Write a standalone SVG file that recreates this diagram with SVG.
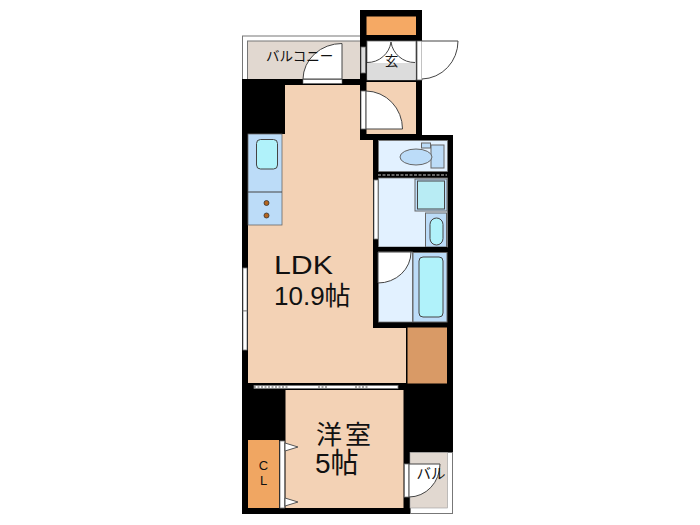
<svg xmlns="http://www.w3.org/2000/svg" width="700" height="525" viewBox="0 0 700 525">
<style>
.blk{fill:#000}
.ln{fill:none;stroke:#444;stroke-width:1}
.wet{fill:#e2f1ff;stroke:#777;stroke-width:.8}
.blue{fill:#bcdcf8;stroke:#666;stroke-width:1}
.fix{fill:#b0f2fa;stroke:#444;stroke-width:1}
.t{font-family:"Liberation Sans","Noto Sans CJK JP",sans-serif;fill:#111}
.win{fill:#fff;stroke:#777;stroke-width:.8}
</style>
<rect width="700" height="525" fill="#fff"/>
<g id="balcony">
<rect x="242.500" y="36" width="118" height="44" fill="#fff" stroke="#777"/>
<rect x="247.500" y="41" width="113" height="39" fill="#e1d8d0" stroke="#777"/>
<path d="M303 79A39 36 0 0 1 342 43.500V79Z" fill="#fff" stroke="#444"/>
<text class="t" x="266" y="61" font-size="13.500">バルコニー</text>
</g>
<g id="walls">
<path class="blk" d="M360 10H422V135H453V452H410V514H242V79H360Z"/>
<rect x="303" y="79.500" width="39" height="4" fill="#fff" stroke="#666" stroke-width=".6"/>
</g>
<g id="storage">
<rect x="366.500" y="16.500" width="49.500" height="18.500" fill="#f5a964"/>
</g>
<g id="entrance">
<rect x="367" y="41" width="49" height="39" fill="#fff" stroke="#666" stroke-width=".8"/>
<rect x="367.500" y="63" width="48" height="17" fill="#dcdcdc"/>
<rect x="366.500" y="82" width="49.500" height="52" fill="#f3d2b5"/>
<rect x="361" y="47" width="4.500" height="26" fill="#ddd" stroke="#666" stroke-width=".8"/>
<rect x="361" y="91" width="5" height="38" fill="#fff" stroke="#666" stroke-width=".8"/>
<path d="M366 91A37 38 0 0 1 402.500 129H366Z" fill="#fff" stroke="#444"/>
<path d="M367 62.500A24 24 0 0 0 391 42A24 24 0 0 0 415 62.500" fill="none" stroke="#444"/>
<rect x="417" y="41" width="5" height="39" fill="#fff" stroke="#666" stroke-width=".8"/>
<path d="M422 41H458A37 38 0 0 1 422 79" fill="#fff" stroke="#444"/>
<text class="t" x="391.500" y="65.500" font-size="13.500" text-anchor="middle">玄</text>
</g>
<g id="ldk">
<path d="M285 85H360V140H373V328H406V383H248V225H282V134H285Z" fill="#f3d2b5"/>
<rect x="407.500" y="327.500" width="39.500" height="56" fill="#d99a66"/>
<rect x="248" y="134" width="34" height="91" fill="#bcdcf8" stroke="#666" stroke-width=".8"/>
<path class="ln" d="M248 192H282"/>
<rect x="256.500" y="139.500" width="21" height="29.500" rx="4" class="fix"/>
<circle cx="266.500" cy="203" r="2.500" fill="#b5651d" stroke="#333" stroke-width=".8"/>
<circle cx="266.500" cy="215.500" r="2.500" fill="#b5651d" stroke="#333" stroke-width=".8"/>
<rect x="243" y="268" width="4" height="43" class="win"/>
<rect x="243" y="311" width="4" height="39" class="win"/>
<rect x="254" y="385.500" width="144" height="3" class="win"/>
<path d="M254 387H288M318 387H328M355 387H369" stroke="#555" stroke-width="1" stroke-dasharray="2 1.500"/>
<text class="t" x="274" y="274" font-size="25.500" textLength="59" lengthAdjust="spacingAndGlyphs">LDK</text>
<text class="t" x="274" y="305" font-size="26">10.9帖</text>
</g>
<g id="toilet">
<rect x="378.500" y="140.500" width="69" height="31" class="wet"/>
<rect x="431" y="145" width="13" height="23" class="blue"/>
<rect x="421.500" y="143" width="9" height="5" class="blue"/>
<ellipse cx="416" cy="157" rx="16" ry="8" class="blue"/>
</g>
<g id="washroom">
<path d="M378 175H447" stroke="#ccc" stroke-dasharray="3 1.500"/>
<rect x="378.500" y="178" width="69" height="69" class="wet"/>
<rect x="374" y="180" width="4" height="59" fill="#fff" stroke="#777" stroke-width=".8"/>
<rect x="415" y="179" width="32" height="32" class="blue"/>
<rect x="417.500" y="181" width="27" height="28" class="fix" style="fill:#b8ecf4"/>
<rect x="425.500" y="213" width="21" height="34" class="blue"/>
<rect x="430" y="218" width="13" height="27" rx="6.500" class="fix"/>
</g>
<g id="bath">
<rect x="378" y="247" width="69" height="4.500" fill="#000"/>
<rect x="378.500" y="252" width="34" height="70" class="wet"/>
<path d="M378 252H411A33 31 0 0 1 378 283Z" fill="#fff" stroke="#444"/>
<rect x="413" y="252.500" width="34" height="69.500" class="blue"/>
<rect x="419" y="257" width="24" height="60" rx="4" class="fix"/>
</g>
<g id="room">
<rect x="285.500" y="390" width="118" height="118" fill="#f3d2b5"/>
<rect x="280" y="441" width="4.500" height="67" fill="#fff" stroke="#777" stroke-width=".8"/>
<path d="M285 443V451L298 447Z" fill="#fff" stroke="#555"/>
<path d="M285 498V506L298 502Z" fill="#fff" stroke="#555"/>
<text class="t" x="316" y="444" font-size="26" letter-spacing="3">洋室</text>
<text class="t" x="315" y="473" font-size="28">5帖</text>
</g>
<g id="closet">
<rect x="248" y="440" width="31" height="68" fill="#f0a662"/>
<text class="t" x="263.500" y="469.500" font-size="13" text-anchor="middle">C</text>
<text class="t" x="263.500" y="485" font-size="13" text-anchor="middle">L</text>
</g>
<g id="utility-balcony">
<rect x="410.500" y="452.500" width="42" height="61" fill="#fff" stroke="#777"/>
<rect x="410" y="452.500" width="37.500" height="55.500" fill="#e1d8d0" stroke="#999" stroke-width=".6"/>
<rect x="404.500" y="464" width="4.500" height="33" fill="#fff" stroke="#777" stroke-width=".8"/>
<path d="M409 464H440A31 33 0 0 1 409 497Z" fill="#fff" stroke="#444"/>
<text class="t" x="416.500" y="479" font-size="14.500">バル</text>
</g>
</svg>
